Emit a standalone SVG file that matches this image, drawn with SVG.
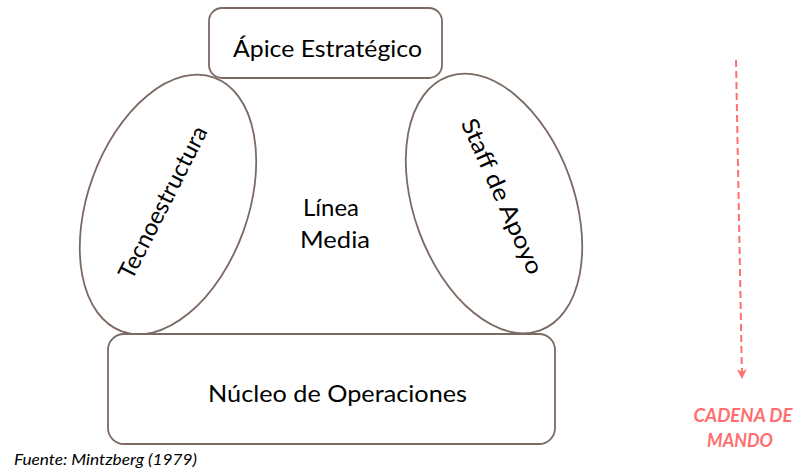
<svg xmlns="http://www.w3.org/2000/svg" width="805" height="472" viewBox="0 0 805 472">
<style>
.shape{fill:none;stroke:#7a6a62;stroke-width:1.8}
.lbl{font-family:"Lato","Liberation Sans",sans-serif;font-size:23.5px;fill:#000}
.red{font-family:"Lato","Liberation Sans",sans-serif;font-size:18px;font-weight:bold;font-style:italic;fill:#ff6f6f}
.src{font-family:"Lato","Liberation Sans",sans-serif;font-size:16px;font-style:italic;fill:#000}
</style>
<defs>
<marker id="ah" viewBox="0 0 10 10" refX="9" refY="5" markerWidth="5" markerHeight="5" orient="auto" markerUnits="strokeWidth">
<path d="M0,0 L10,5 L0,10 L3,5 Z" fill="#ff6f6f"/>
</marker>
</defs>
<rect width="805" height="472" fill="#fff"/>
<g id="tecnoestructura">
<ellipse class="shape" cx="168" cy="204.5" rx="80" ry="135" transform="rotate(20 168 204.5)"/>
<text class="lbl" x="162" y="202" text-anchor="middle" dominant-baseline="central" textLength="168" lengthAdjust="spacingAndGlyphs" transform="rotate(-63 162 202)">Tecnoestructura</text>
</g>
<g id="staff">
<ellipse class="shape" cx="494" cy="203.5" rx="80" ry="135" transform="rotate(-20 494 203.5)"/>
<text class="lbl" x="503" y="196" text-anchor="middle" dominant-baseline="central" textLength="168" lengthAdjust="spacingAndGlyphs" transform="rotate(66 503 196)">Staff de Apoyo</text>
</g>
<g id="apice">
<rect class="shape" x="209" y="8" width="233" height="70" rx="13" style="fill:#fff"/>
<text class="lbl" x="327.5" y="57" text-anchor="middle" textLength="189" lengthAdjust="spacingAndGlyphs">Ápice Estratégico</text>
</g>
<g id="linea">
<text class="lbl" x="331" y="216" text-anchor="middle" textLength="56" lengthAdjust="spacingAndGlyphs">Línea</text>
<text class="lbl" x="335" y="248" text-anchor="middle" textLength="70" lengthAdjust="spacingAndGlyphs">Media</text>
</g>
<g id="nucleo">
<rect class="shape" x="108" y="334" width="447" height="110" rx="16" style="fill:#fff"/>
<text class="lbl" x="337.5" y="402" text-anchor="middle" textLength="259" lengthAdjust="spacingAndGlyphs">Núcleo de Operaciones</text>
</g>
<g id="connectors">
<line x1="736" y1="60" x2="742" y2="378" stroke="#ff6f6f" stroke-width="2" stroke-dasharray="7,4" marker-end="url(#ah)"/>
</g>
<g id="cadena">
<text class="red" x="743" y="422" text-anchor="middle" textLength="99" lengthAdjust="spacingAndGlyphs">CADENA DE</text>
<text class="red" x="740" y="447" text-anchor="middle" textLength="66" lengthAdjust="spacingAndGlyphs">MANDO</text>
</g>
<text class="src" x="14" y="465" textLength="183" lengthAdjust="spacingAndGlyphs">Fuente: Mintzberg (1979)</text>
</svg>
